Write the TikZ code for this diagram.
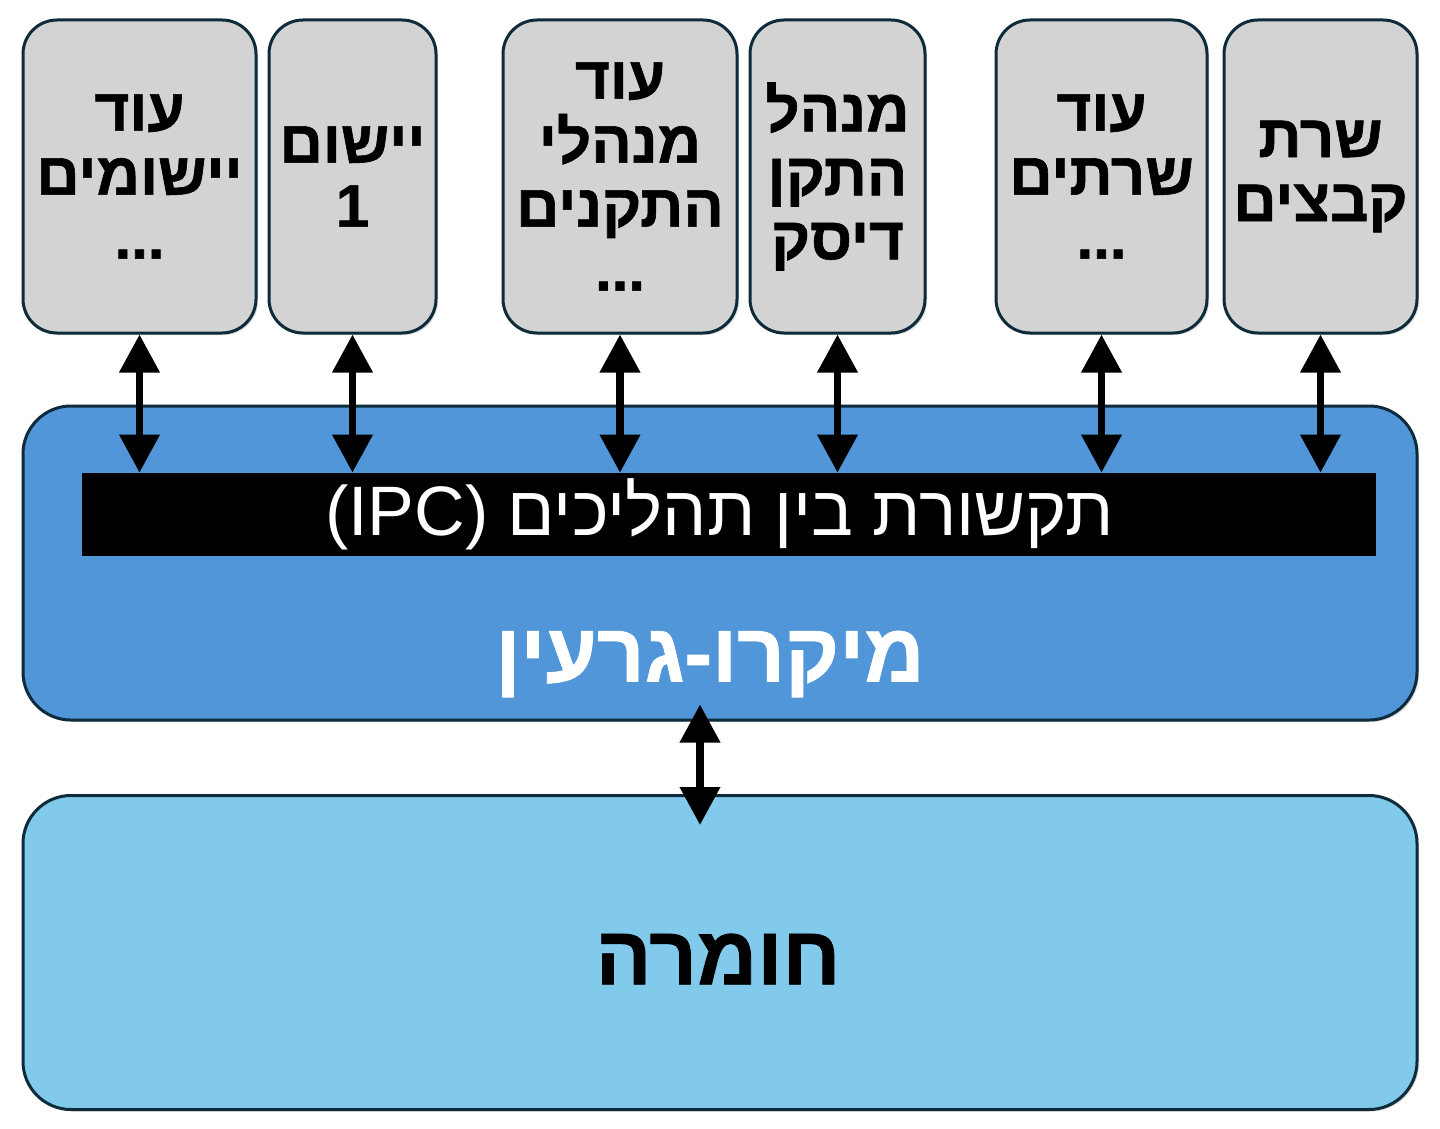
\documentclass[tikz,border=0pt]{standalone}
\usepackage{fontspec}
\usetikzlibrary{arrows.meta,shadows}
\TeXXeTstate=1
\newfontfamily\hebfont[Script=Hebrew, BoldFeatures={FakeBold=1}]{Liberation Sans}
\newcommand{\rl}[1]{\beginR #1\endR}
\definecolor{boxline}{HTML}{0E2B3C}
\definecolor{boxgray}{HTML}{D3D3D3}
\definecolor{kernelblue}{HTML}{5096D9}
\definecolor{hwblue}{HTML}{82CAEB}
\tikzset{
  procbox/.style={draw=boxline, line width=1.5pt, fill=boxgray, rounded corners=17pt,
    minimum height=156.5pt, inner sep=0pt, align=center,
    font=\hebfont\bfseries\fontsize{30}{32}\selectfont,
    drop shadow={shadow xshift=1pt, shadow yshift=-1pt, opacity=0.3}},
  layerbox/.style={draw=boxline, line width=1.5pt, rounded corners=24pt,
    minimum width=697pt, minimum height=157pt, inner sep=0pt,
    drop shadow={shadow xshift=1pt, shadow yshift=-1pt, opacity=0.3}},
  biglabel/.style={font=\hebfont\bfseries\fontsize{41.5}{44}\selectfont},
  biarrow/.style={{Triangle[length=19pt,width=19.5pt]}-{Triangle[length=19pt,width=19.5pt]}, line width=3.6pt},
}
\begin{document}
\begin{tikzpicture}[x=0.5pt, y=-0.5pt]
\useasboundingbox (0,0) rectangle (1440,1129);

% layers
\node[layerbox, fill=kernelblue] (kernel) at (720,563) {};
\node[fill=black, minimum width=647pt, minimum height=41.5pt, inner sep=0pt] (ipc) at (729,514.5) {};
\node[text=white, font=\hebfont\fontsize{35}{37}\selectfont] (ipclabel) at (719.5,514.5)
  {\rl{תקשורת בין תהליכים \beginL(IPC)\endL}};
\node[biglabel, text=white] (micro) at (710,664) {\rl{מיקרו-גרעין}};
\node[layerbox, fill=hwblue] (hw) at (720,952.5) {};
\node[biglabel] (hwlabel) at (718,959) {\rl{חומרה}};

% processes
\node[procbox, minimum width=116.5pt] (apps) at (139.5,176.5) {\rl{עוד}\\\rl{יישומים}\\\rl{...}};
\node[procbox, minimum width=83.5pt] (app1) at (352.5,176.5) {\rl{יישום}\\1};
\node[procbox, minimum width=117pt] (drivers) at (620,176.5) {\rl{עוד}\\\rl{מנהלי}\\\rl{התקנים}\\\rl{...}};
\node[procbox, minimum width=87.5pt] (disk) at (837.5,176.5) {\rl{מנהל}\\\rl{התקן}\\\rl{דיסק}};
\node[procbox, minimum width=105.5pt] (servers) at (1101.5,176.5) {\rl{עוד}\\\rl{שרתים}\\\rl{...}};
\node[procbox, minimum width=96.5pt] (fs) at (1320.5,176.5) {\rl{שרת}\\\rl{קבצים}};

% arrows
\foreach \n in {apps,app1,drivers,disk,servers,fs}
  \draw[biarrow] (\n.south) -- (\n.south |- ipc.north);
\draw[biarrow] ([xshift=-10pt,yshift=8.5pt]kernel.south) -- ([xshift=-10pt,yshift=-15.5pt]hw.north);

\end{tikzpicture}
\end{document}
